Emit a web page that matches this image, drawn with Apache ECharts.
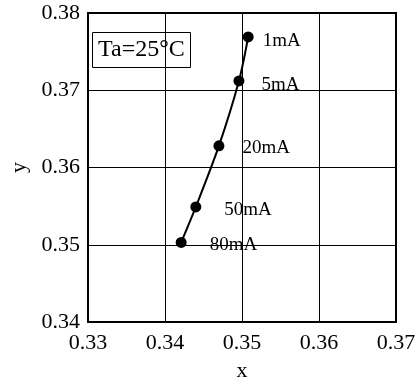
<!DOCTYPE html>
<html>
<head>
  <meta charset="utf-8">
  <script src="https://cdn.jsdelivr.net/npm/echarts@6/dist/echarts.min.js"></script>
</head>
<body style="margin:0">
<div id="main" style="width: 419px; height: 387px"></div>
<script>
  // chromaticity points for each forward current
  const currents = ['1mA', '5mA', '20mA', '50mA', '80mA'];
  const xs = [0.3508, 0.3496, 0.3470, 0.3440, 0.3421];
  const ys = [0.3769, 0.3712, 0.3628, 0.3549, 0.3503];

  const font = 'Liberation Serif';
  // label offsets from each dot (px)
  const offs = [[4, 4], [12, 4], [13, 2], [18, 3], [18, 3]];

  const chart = echarts.init(document.getElementById('main'));
  const pts = xs.map((x, i) => ({
    value: [x, ys[i]],
    name: currents[i],
    label: { offset: offs[i] }
  }));

  chart.setOption({
    animation: false,
    title: {
      text: 'Ta=25°C',
      left: 92, top: 32,
      padding: [6, 6, 6, 6],
      borderColor: '#000', borderWidth: 1,
      textStyle: { fontFamily: font, fontSize: 24, fontWeight: 'normal', color: '#000' }
    },
    grid: {
      left: 85, right: 23, top: 13, bottom: 65,
      show: true, borderColor: '#000', borderWidth: 2
    },
    xAxis: {
      type: 'value', min: 0.33, max: 0.37, interval: 0.01,
      name: 'x', nameLocation: 'middle', nameGap: 38,
      nameTextStyle: { fontFamily: font, fontSize: 22, color: '#000' },
      axisLine: { show: true, lineStyle: { color: '#000', width: 2 } },
      axisTick: { show: false },
      axisLabel: { fontFamily: font, fontSize: 22, color: '#000', margin: 10,
        formatter: v => v.toFixed(2) },
      splitLine: { lineStyle: { color: '#000', width: 1 } }
    },
    yAxis: {
      type: 'value', min: 0.34, max: 0.38, interval: 0.01,
      name: 'y', nameLocation: 'middle', nameGap: 58,
      nameTextStyle: { fontFamily: font, fontSize: 22, color: '#000' },
      axisLine: { show: true, lineStyle: { color: '#000', width: 2 } },
      axisTick: { show: false },
      axisLabel: { fontFamily: font, fontSize: 22, color: '#000', margin: 8,
        formatter: v => v.toFixed(2) },
      splitLine: { lineStyle: { color: '#000', width: 1 } }
    },
    series: [{
      type: 'line',
      data: pts,
      smooth: 0.3,
      symbol: 'circle',
      symbolSize: 11,
      itemStyle: { color: '#000' },
      lineStyle: { color: '#000', width: 2 },
      label: {
        show: true, position: 'right',
        formatter: p => p.name,
        fontFamily: font, fontSize: 19, color: '#000'
      }
    }]
  });
</script>
</body>
</html>
